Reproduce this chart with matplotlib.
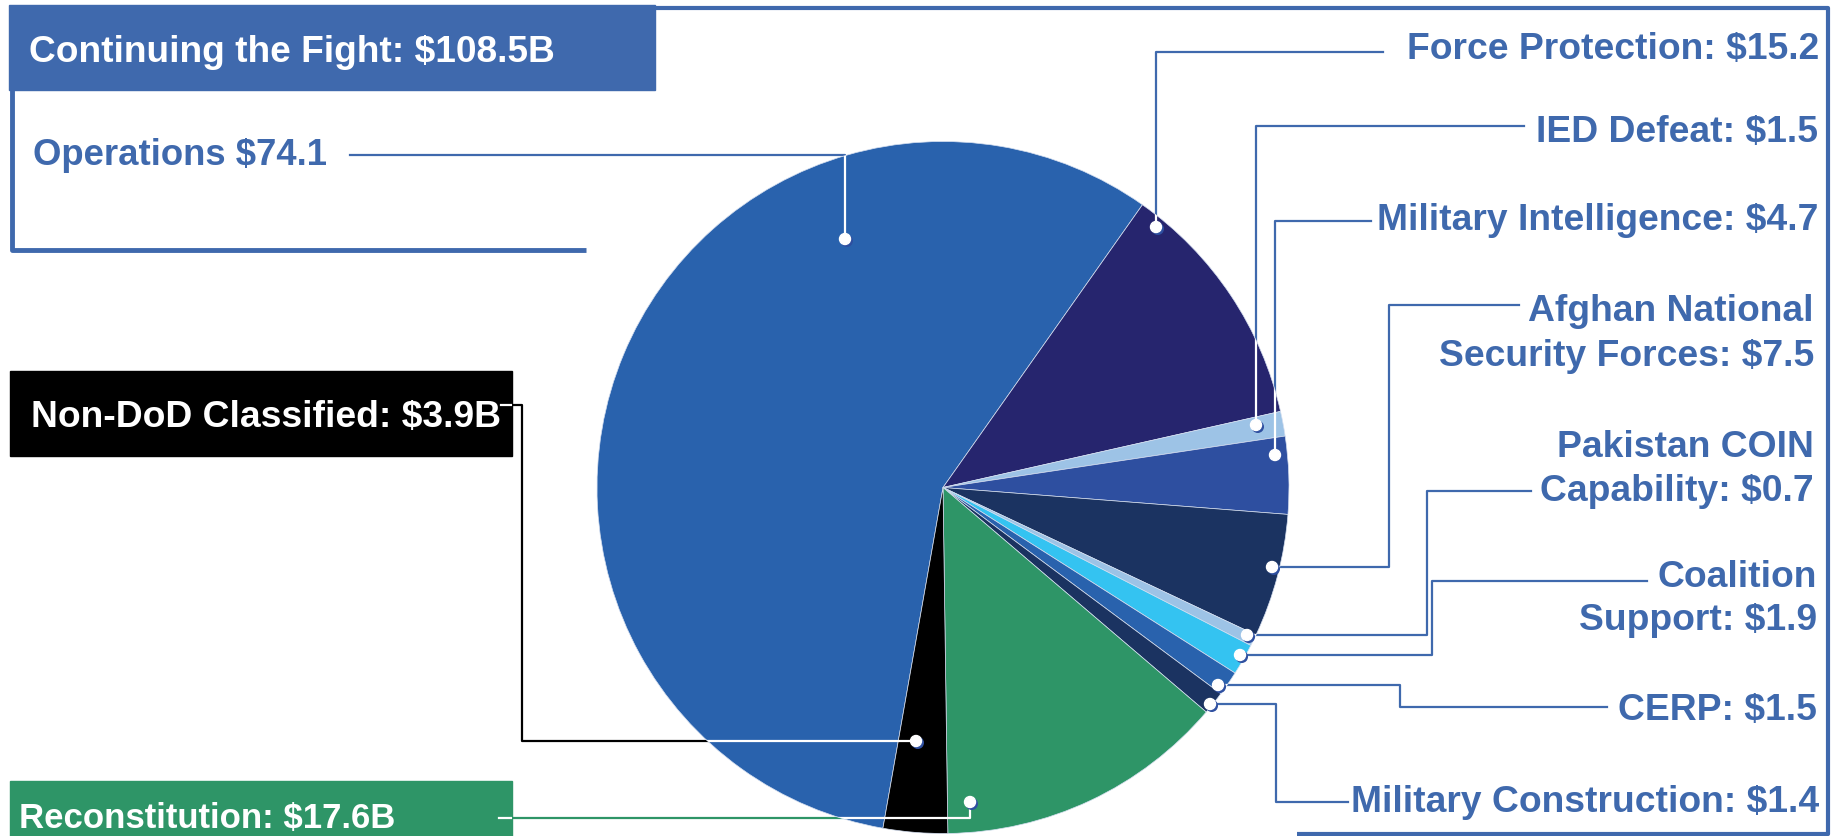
import matplotlib.pyplot as plt
from matplotlib.patches import Rectangle, Circle

W, H = 1839, 836

# budget request, $B
categories = ['Operations', 'Force Protection', 'IED Defeat', 'Military Intelligence',
              'Afghan National Security Forces', 'Pakistan COIN Capability',
              'Coalition Support', 'CERP', 'Military Construction',
              'Reconstitution', 'Non-DoD Classified']
values = [74.1, 15.2, 1.5, 4.7, 7.5, 0.7, 1.9, 1.5, 1.4, 17.6, 3.9]
labels = ['Operations $74.1', 'Force Protection: $15.2', 'IED Defeat: $1.5',
          'Military Intelligence: $4.7', 'Afghan National\nSecurity Forces: $7.5',
          'Pakistan COIN\nCapability: $0.7', 'Coalition\nSupport: $1.9', 'CERP: $1.5',
          'Military Construction: $1.4', 'Reconstitution: $17.6B',
          'Non-DoD Classified: $3.9B']
group_label = 'Continuing the Fight: $108.5B'

BLUE = '#3f69ad'
GREEN = '#2e9567'
colors = ['#2962ad', '#26256e', '#9dc3e6', '#2e4fa0', '#1b3361', '#9dc3e6',
          '#34c3f1', '#2962ad', '#1b3361', GREEN, '#000000']

FONT = ['Liberation Sans Narrow', 'Liberation Sans', 'DejaVu Sans']


def px(x, y):
    # picture coords (y down) -> data coords (y up)
    return x, H - y


fig = plt.figure(figsize=(W / 100, H / 100), dpi=100)
ax = fig.add_axes([0, 0, 1, 1])

cx, cy = px(943, 487.5)
r = 346
wedges, _ = ax.pie(values, colors=colors, startangle=260, counterclock=False,
                   center=(cx, cy), radius=r,
                   wedgeprops=dict(linewidth=0.5, edgecolor='#d5dff0'))
ax.set_xlim(0, W)
ax.set_ylim(0, H)
ax.set_aspect('equal')
ax.axis('off')

# frame and boxes
def frame(points, color=BLUE, lw=3):
    xs, ys = zip(*[px(*p) for p in points])
    ax.plot(xs, ys, color=color, lw=lw, solid_capstyle='butt', zorder=0.4)

frame([(655, 8), (1828, 8), (1828, 834), (1297, 834)])
frame([(12, 88), (12, 250), (586, 250)], lw=3.5)

header = Rectangle(px(9, 90), 646, 85, color=BLUE, zorder=2)
nondod_box = Rectangle(px(10, 456), 502, 85, color='black', zorder=2)
recon_box = Rectangle(px(10, 836), 502, 55, color=GREEN, zorder=2)
for b in (header, nondod_box, recon_box):
    ax.add_patch(b)

txt = dict(fontfamily=FONT, fontweight='bold', fontsize=26.8, va='baseline')
ax.text(*px(29, 62), group_label, color='white', ha='left', zorder=6,
        **{**txt, 'fontsize': 26.7})
ax.text(*px(31, 427), labels[10], color='white', ha='left', zorder=6, **txt)
ax.text(*px(19, 828), labels[9], color='white', ha='left', zorder=6,
        **{**txt, 'fontsize': 25})
ax.text(*px(33, 165), labels[0], color=BLUE, ha='left', zorder=6,
        **{**txt, 'fontsize': 26.3})

# right-hand labels: (index, right x, baselines)
right_labels = [
    (1, 1819, [59]),
    (2, 1818, [142]),
    (3, 1818, [230]),
    (4, 1814, [321, 366]),
    (5, 1814, [457, 501]),
    (6, 1817, [587, 630]),
    (7, 1817, [720]),
    (8, 1819, [812]),
]
for i, xr, bases in right_labels:
    for line, yb in zip(labels[i].split('\n'), bases):
        ax.text(*px(xr, yb), line, color=BLUE, ha='right', zorder=6, **txt)

# leader lines, last point is the dot
leaders = [
    (0, [(350, 155), (845, 155), (845, 239)], BLUE),
    (1, [(1383, 52), (1156, 52), (1156, 227)], BLUE),
    (2, [(1524, 126), (1256, 126), (1256, 425)], BLUE),
    (3, [(1371, 221), (1275, 221), (1275, 455)], BLUE),
    (4, [(1519, 305), (1389, 305), (1389, 567), (1272, 567)], BLUE),
    (5, [(1531, 491), (1427, 491), (1427, 635), (1247, 635)], BLUE),
    (6, [(1647, 581), (1432, 581), (1432, 655), (1240, 655)], BLUE),
    (7, [(1607, 707), (1400, 707), (1400, 685), (1218, 685)], BLUE),
    (8, [(1348, 802), (1276, 802), (1276, 704), (1210, 704)], BLUE),
    (9, [(499, 818), (970, 818), (970, 802)], GREEN),
    (10, [(501, 405), (522, 405), (522, 741), (916, 741)], 'black'),
]
pie_clip = Circle((cx, cy), r, transform=ax.transData)
for i, pts, c in leaders:
    xs, ys = zip(*[px(*p) for p in pts])
    ax.plot(xs, ys, color=c, lw=1.6, zorder=0.5)
    for clip in (pie_clip, nondod_box, recon_box):
        ln, = ax.plot(xs, ys, color='white', lw=1.6, zorder=3)
        ln.set_clip_path(clip)
    dx, dy = xs[-1], ys[-1]
    ax.add_patch(Circle((dx + 1.8, dy - 1.8), 5.5, color='#2e4fa0', zorder=4))
    ax.add_patch(Circle((dx, dy), 5.5, color='white', zorder=5))

fig.savefig('out.png', dpi=100)
